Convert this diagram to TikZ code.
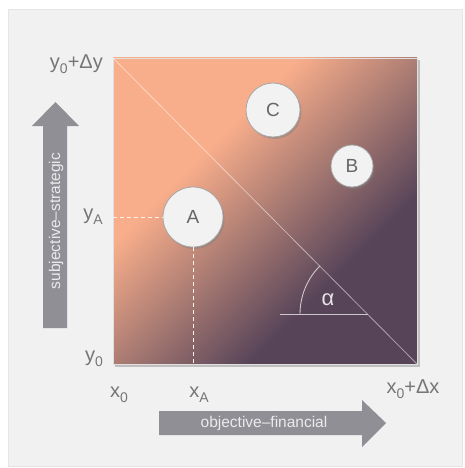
\documentclass[tikz,border=0pt]{standalone}
\usepackage{fontspec}
\setmainfont{Liberation Sans}
\usetikzlibrary{arrows.meta,shadows}
\definecolor{sal}{HTML}{F9AE8B}
\definecolor{midc}{HTML}{A87A72}
\definecolor{pur}{HTML}{574459}
\definecolor{panel}{HTML}{F1F1F1}
\definecolor{lbl}{HTML}{767676}
\definecolor{arr}{HTML}{8F8F95}
\newcommand{\sbs}[1]{\raisebox{-0.5ex}{\fontsize{14}{14}\selectfont #1}}
\pgfdeclarehorizontalshading{sqshade}{100bp}{color(0bp)=(sal); color(36bp)=(sal); color(51bp)=(midc); color(66bp)=(pur); color(100bp)=(pur)}
\tikzset{
  axlbl/.style={text=lbl, font=\fontsize{20}{22}\selectfont, inner sep=1pt},
  bubble/.style={circle, fill=panel!95!white, draw=gray!70, line width=0.8pt, text=black!60, font=\fontsize{19}{21}\selectfont, inner sep=0pt, drop shadow={shadow xshift=1.5pt, shadow yshift=-2pt, opacity=0.45}},
  guide/.style={draw=white!80!sal, dashed, dash pattern=on 4pt off 3pt, line width=0.8pt},
  bigarrow/.style={fill=arr, draw=none},
  arrtext/.style={text=white!82!arr, font=\fontsize{15.5}{17}\selectfont}
}
\begin{document}
\begin{tikzpicture}[x=1pt,y=1pt]
\useasboundingbox[fill=white] (0,0) rectangle (464,-468);
\fill[panel, draw=gray!20] (8,-9) rectangle (462,-466);
% square shadow
\fill[gray!50] (115,-60) rectangle (419.5,-366.5);
\shade[shading=sqshade, shading angle=-45, draw=gray!25, line width=0.8pt] (113,-58) rectangle (417,-364);
\coordinate (TL) at (113,-58);
\coordinate (BR) at (417,-364);
\coordinate (Ay) at (113,-217);
\coordinate (Ax) at (193,-364);
\draw[white, opacity=0.5, line width=0.8pt] (TL) -- (BR);
% angle
\coordinate (h0) at (280,-314);
\coordinate (h1) at (368,-314);
\draw[white!70!pur, line width=0.9pt] (h0) -- (h1);
\draw[white!70!pur, line width=0.9pt] (300,-314) arc[start angle=180, end angle=134.8, radius=68];
\node[text=white!85!pur, font=\fontsize{22}{24}\selectfont] (al) at (328,-300) {α};
% bubbles
\node[bubble, minimum size=60pt] (A) at (193,-217) {A};
\node[bubble, minimum size=54pt] (C) at (273,-110) {C};
\node[bubble, minimum size=42pt] (B) at (352,-166) {B};
\draw[guide] (Ay) -- (A.west);
\draw[guide] (A.south) -- (Ax);
% labels
\node[axlbl, anchor=east] (ytop) at (104,-64) {y\sbs{0}+Δy};
\node[axlbl, anchor=east] (yA) at (104,-217) {y\sbs{A}};
\node[axlbl, anchor=east] (y0) at (104,-359) {y\sbs{0}};
\node[axlbl] (x0) at (119,-395) {x\sbs{0}};
\node[axlbl] (xA) at (199,-395) {x\sbs{A}};
\node[axlbl] (xr) at (413,-389) {x\sbs{0}+Δx};
% big arrows
\fill[bigarrow] (43,-328) -- (43,-126) -- (32,-126) -- (55.5,-102) -- (79,-126) -- (67,-126) -- (67,-328) -- cycle;
\node[arrtext, rotate=90] (vt) at (56,-221) {subjective--strategic};
\fill[bigarrow] (159,-411) -- (362,-411) -- (362,-400) -- (386,-423) -- (362,-447) -- (362,-435) -- (159,-435) -- cycle;
\node[arrtext] (ht) at (264,-423) {objective--financial};
\end{tikzpicture}
\end{document}
